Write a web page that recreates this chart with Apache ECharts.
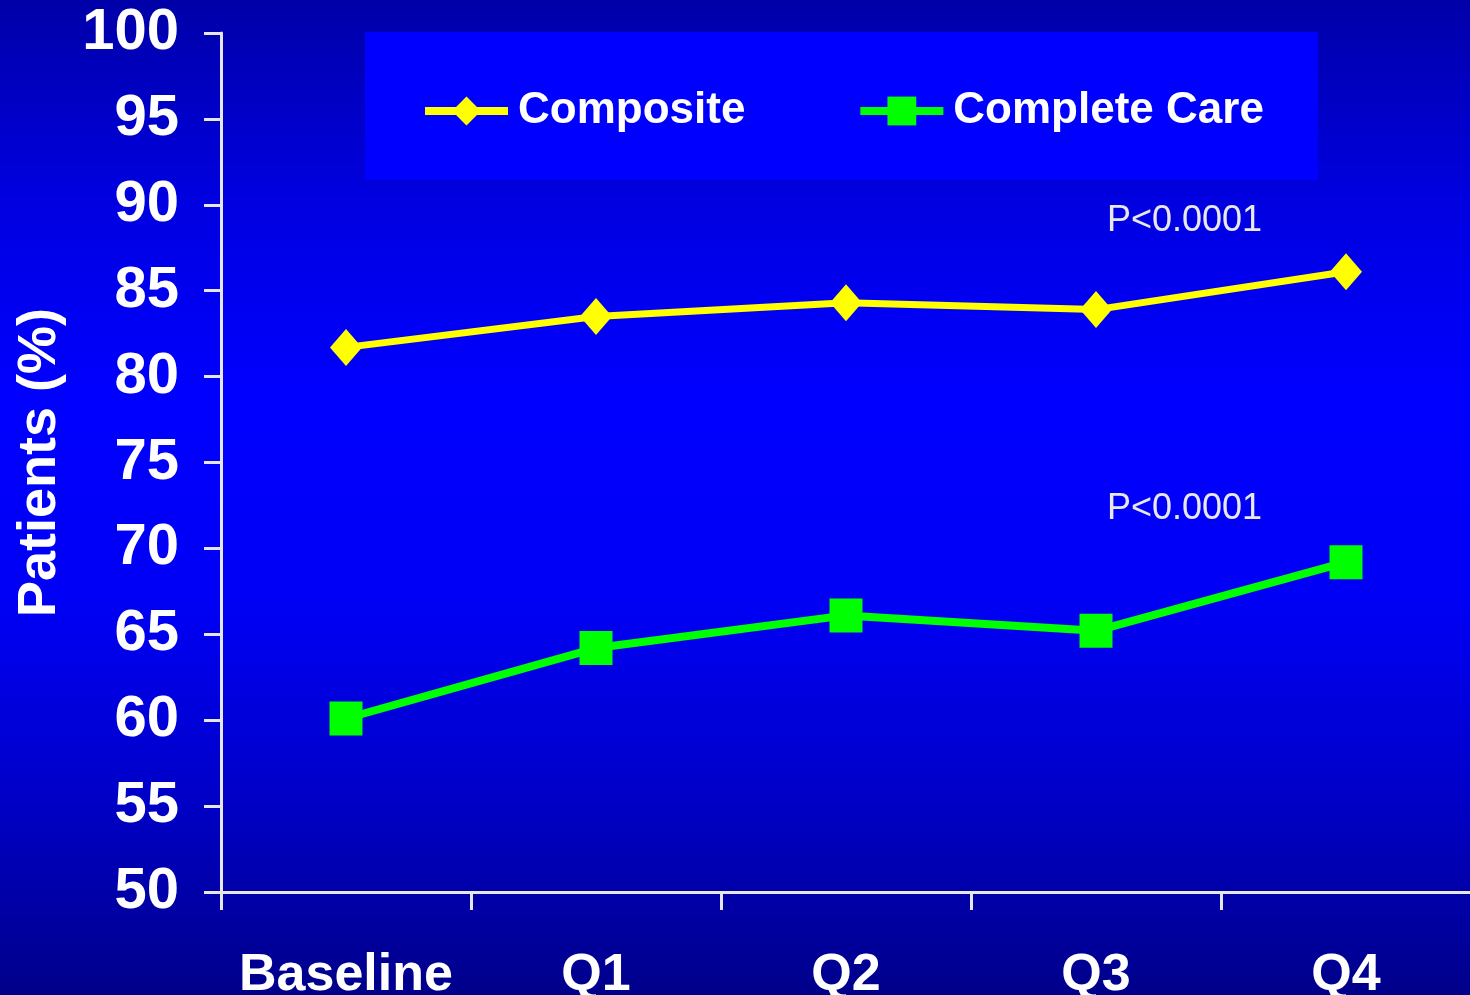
<!DOCTYPE html>
<html>
<head>
<meta charset="utf-8">
<script src="https://cdn.jsdelivr.net/npm/echarts@6/dist/echarts.min.js"></script>
<style>
  html, body { margin: 0; padding: 0; width: 100%; height: 100%; overflow: hidden; }
  #chart { width: 1470px; height: 995px; }
</style>
</head>
<body>
<div id="chart"></div>
<script>
// Quarterly share of patients meeting each measure
const categories = ['Baseline', 'Q1', 'Q2', 'Q3', 'Q4'];
const compositeValues = [81.7, 83.5, 84.3, 83.9, 86.1];
const completeCareValues = [60.1, 64.2, 66.1, 65.2, 69.2];
const seriesNames = ['Composite', 'Complete Care'];
const pValueLabels = ['P<0.0001', 'P<0.0001'];

const FONT = '"Liberation Sans", Arial, Helvetica, sans-serif';
const AXIS_COLOR = '#E6E6E6';

const chart = echarts.init(document.getElementById('chart'), null, { renderer: 'canvas' });

chart.setOption({
  backgroundColor: {
    type: 'linear', x: 0, y: 0, x2: 0, y2: 1,
    colorStops: [
      { offset: 0.00, color: '#0000A8' },
      { offset: 0.20, color: '#0000E0' },
      { offset: 0.40, color: '#0000FF' },
      { offset: 0.60, color: '#0000F6' },
      { offset: 0.80, color: '#0000C8' },
      { offset: 1.00, color: '#00008A' }
    ]
  },
  textStyle: { fontFamily: FONT },
  animation: false,
  legend: {
    data: seriesNames,
    left: 365,
    top: 32,
    orient: 'horizontal',
    backgroundColor: '#0000FF',
    padding: [57, 54, 47, 56],
    itemGap: 111,
    itemWidth: 83,
    itemHeight: 36,
    lineStyle: { width: 8 },
    textStyle: {
      color: '#FFFFFF',
      fontSize: 44,
      fontWeight: 'bold',
      fontFamily: FONT,
      padding: [0, 0, 0, 5]
    }
  },
  grid: { left: 221, top: 33, width: 1250, height: 859, containLabel: false, outerBoundsMode: 'none' },
  xAxis: {
    type: 'category',
    data: categories,
    boundaryGap: true,
    axisLine: { show: true, lineStyle: { color: AXIS_COLOR, width: 3 } },
    axisTick: { show: true, length: 18, alignWithLabel: false, lineStyle: { color: AXIS_COLOR, width: 3 } },
    axisLabel: {
      color: '#FFFFFF',
      fontSize: 52,
      fontWeight: 'bold',
      fontFamily: FONT,
      margin: 58,
      interval: 0
    },
    splitLine: { show: false }
  },
  yAxis: {
    type: 'value',
    min: 50,
    max: 100,
    interval: 5,
    name: 'Patients (%)',
    nameLocation: 'middle',
    nameGap: 154,
    nameTextStyle: {
      color: '#FFFFFF',
      fontSize: 54,
      fontWeight: 'bold',
      fontFamily: FONT
    },
    axisLine: { show: true, lineStyle: { color: AXIS_COLOR, width: 3 } },
    axisTick: { show: true, length: 17, lineStyle: { color: AXIS_COLOR, width: 3 } },
    axisLabel: {
      color: '#FFFFFF',
      fontSize: 58,
      fontWeight: 'bold',
      fontFamily: FONT,
      margin: 42
    },
    splitLine: { show: false }
  },
  series: [
    {
      name: seriesNames[0],
      type: 'line',
      data: compositeValues,
      symbol: 'diamond',
      symbolSize: [32, 37],
      showAllSymbol: true,
      lineStyle: { color: '#FFFF00', width: 7 },
      itemStyle: { color: '#FFFF00' },
      z: 3
    },
    {
      name: seriesNames[1],
      type: 'line',
      data: completeCareValues,
      symbol: 'rect',
      symbolSize: [33, 34],
      showAllSymbol: true,
      lineStyle: { color: '#00FF00', width: 8 },
      itemStyle: { color: '#00FF00' },
      z: 3
    }
  ],
  graphic: [
    {
      type: 'text',
      left: 1107,
      top: 203,
      style: { text: pValueLabels[0], fill: '#E8E8E8', font: '36px ' + FONT }
    },
    {
      type: 'text',
      left: 1107,
      top: 491,
      style: { text: pValueLabels[1], fill: '#E8E8E8', font: '36px ' + FONT }
    }
  ]
});
</script>
</body>
</html>
